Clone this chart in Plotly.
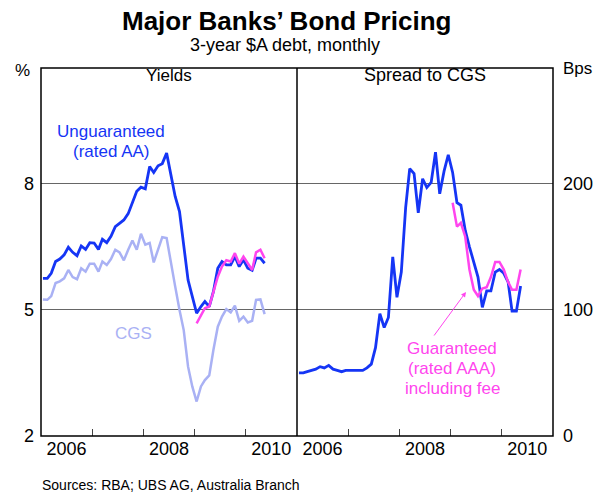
import plotly.graph_objects as go

# ---------------- data ----------------
months = [f"{2006 + m // 12}-{m % 12 + 1:02d}-15" for m in range(53)]  # Jan 2006 .. May 2010

unguaranteed_yield = [5.75, 5.75, 5.87, 6.15, 6.21, 6.31, 6.49, 6.37, 6.29, 6.52,
                      6.44, 6.60, 6.59, 6.44, 6.68, 6.60, 6.75, 6.98, 7.06, 7.14,
                      7.29, 7.54, 7.82, 7.92, 7.88, 8.41, 8.27, 8.43, 8.48, 8.73,
                      8.25, 7.70, 7.34, 6.51, 5.71, 5.32, 4.92, 5.08, 5.20, 5.08,
                      5.44, 5.99, 6.15, 6.07, 6.07, 6.27, 6.03, 6.19, 5.99, 5.94,
                      6.23, 6.23, 6.11]
cgs_yield = [5.25, 5.24, 5.33, 5.64, 5.68, 5.75, 5.95, 5.78, 5.73, 5.99,
             5.91, 6.10, 6.10, 5.91, 6.15, 6.07, 6.21, 6.43, 6.37, 6.18,
             6.43, 6.65, 6.43, 6.81, 6.55, 6.59, 6.13, 6.43, 6.73, 6.71,
             6.11, 5.56, 5.00, 4.52, 3.65, 3.18, 2.82, 3.18, 3.33, 3.44,
             4.05, 4.60, 4.84, 5.02, 4.94, 5.10, 4.74, 4.84, 4.70, 4.74,
             5.24, 5.25, 4.90]
guaranteed_months = months[36:]
guaranteed_yield = [4.68, 4.86, 5.04, 5.08, 5.40, 5.79, 6.03, 6.18, 6.15, 6.35,
                    6.10, 6.27, 6.11, 5.95, 6.37, 6.43, 6.23]

unguaranteed_spread = [50, 50, 51, 52, 53, 55, 54, 56, 53, 52,
                       51, 52, 52, 52, 52, 52, 54, 57, 70, 97,
                       86, 94, 142, 110, 130, 181, 212, 208, 177, 204,
                       197, 201, 225, 192, 210, 223, 209, 185, 183, 163,
                       150, 138, 126, 102, 115, 115, 130, 132, 129, 122,
                       99, 99, 119]
guaranteed_spread = [185, 166, 169, 158, 132, 116, 111, 117, 118, 126,
                     138, 138, 132, 122, 116, 116, 132]

year_label_pos = ["2006-07-02", "2008-07-02", "2010-07-02"]
year_labels = ["2006", "2008", "2010"]
year_ticks = ["2007-01-01", "2008-01-01", "2009-01-01", "2010-01-01"]
left_ticks = [2, 5, 8]
right_ticks = [0, 100, 200]

# ---------------- styling ----------------
BLUE = "#1535f5"
LIGHT = "#a9b1f4"
PINK = "#ff45ee"
FONT = "Liberation Sans, Arial, sans-serif"

# the page body adds an 8px offset, so the figure is 8px smaller
OFF = 8
W, H = 609 - OFF, 497 - OFF
ML, MR, MT, MB = 41 - OFF, 56, 68 - OFF, 61
PW, PH = W - ML - MR, H - MT - MB
X0, Y1 = 41, 436  # absolute page position of the plot area's left/bottom


def px(x):
    return (x - X0) / PW


def py(y):
    return (Y1 - y) / PH


fig = go.Figure()
fig.add_trace(go.Scatter(x=months, y=cgs_yield, mode="lines",
                         line=dict(color=LIGHT, width=2.5), xaxis="x", yaxis="y"))
fig.add_trace(go.Scatter(x=months, y=unguaranteed_yield, mode="lines",
                         line=dict(color=BLUE, width=2.8), xaxis="x", yaxis="y"))
fig.add_trace(go.Scatter(x=guaranteed_months, y=guaranteed_yield, mode="lines",
                         line=dict(color=PINK, width=2.5), xaxis="x", yaxis="y"))
fig.add_trace(go.Scatter(x=months, y=unguaranteed_spread, mode="lines",
                         line=dict(color=BLUE, width=2.8), xaxis="x2", yaxis="y2"))
fig.add_trace(go.Scatter(x=guaranteed_months, y=guaranteed_spread, mode="lines",
                         line=dict(color=PINK, width=2.5), xaxis="x2", yaxis="y2"))

xcommon = dict(range=["2006-01-01", "2011-01-01"], tickmode="array",
               tickvals=year_label_pos, ticktext=year_labels, ticks="",
               showgrid=False, zeroline=False, showline=False,
               tickfont=dict(size=18, color="black", family=FONT),
               ticklabelstandoff=0,
               minor=dict(tickmode="array", tickvals=year_ticks, ticks="inside",
                          ticklen=7, tickwidth=1, tickcolor="#444", showgrid=False))

fig.update_layout(
    width=W, height=H,
    margin=dict(l=ML, r=MR, t=MT, b=MB),
    paper_bgcolor="white", plot_bgcolor="white",
    showlegend=False,
    font=dict(family=FONT, color="black"),
    xaxis=dict(domain=[0, 0.5], anchor="y", **xcommon),
    xaxis2=dict(domain=[0.5, 1], anchor="y2", **xcommon),
    yaxis=dict(range=[2, 10.755], tickvals=left_ticks, ticks="",
               showgrid=True, gridcolor="#666", gridwidth=1, zeroline=False,
               showline=False, anchor="x", side="left", ticklabelstandoff=6,
               tickfont=dict(size=18, color="black", family=FONT)),
    yaxis2=dict(range=[0, 291.8], tickvals=right_ticks, ticks="",
                showgrid=True, gridcolor="#666", gridwidth=1, zeroline=False,
                showline=False, anchor="x2", side="right", ticklabelstandoff=9,
                tickfont=dict(size=18, color="black", family=FONT)),
)

# frame and panel divider
fig.add_shape(type="rect", xref="paper", yref="paper", x0=0, x1=1, y0=0, y1=1,
              line=dict(color="black", width=1.5), layer="above")
fig.add_shape(type="line", xref="paper", yref="paper", x0=0.5, x1=0.5, y0=0, y1=1,
              line=dict(color="black", width=1.5), layer="above")

ann = []


def text(x, y, s, size=17, color="black", xanchor="center"):
    ann.append(dict(x=px(x), y=py(y), xref="paper", yref="paper", text=s,
                    showarrow=False, xanchor=xanchor, yanchor="middle",
                    font=dict(size=size, color=color, family=FONT)))


text(286, 21, "<b>Major Banks’ Bond Pricing</b>", size=26)
text(285, 45, "3-year $A debt, monthly", size=18)
text(169, 75, "Yields", size=17)
text(425, 75, "Spread to CGS", size=18)
text(22, 71, "%", size=17)
text(577, 69, "Bps", size=17)
text(111, 131, "Unguaranteed", size=17, color=BLUE)
text(111, 151, "(rated AA)", size=17, color=BLUE)
text(133, 333, "CGS", size=17, color=LIGHT)
text(452, 348, "Guaranteed", size=17, color=PINK)
text(452, 368, "(rated AAA)", size=17, color=PINK)
text(452, 388, "including fee", size=17, color=PINK)
text(40, 485, "Sources: RBA; UBS AG, Australia Branch", size=14, xanchor="left")

# arrow (tail offset given in pixels)
ann.append(dict(x=px(466), y=py(292), ax=433 - 466, ay=337 - 292,
                xref="paper", yref="paper", axref="pixel", ayref="pixel",
                showarrow=True, arrowhead=2, arrowsize=1, arrowwidth=1,
                arrowcolor=PINK, text=""))

fig.update_layout(annotations=ann)

fig.write_html("out.html")
